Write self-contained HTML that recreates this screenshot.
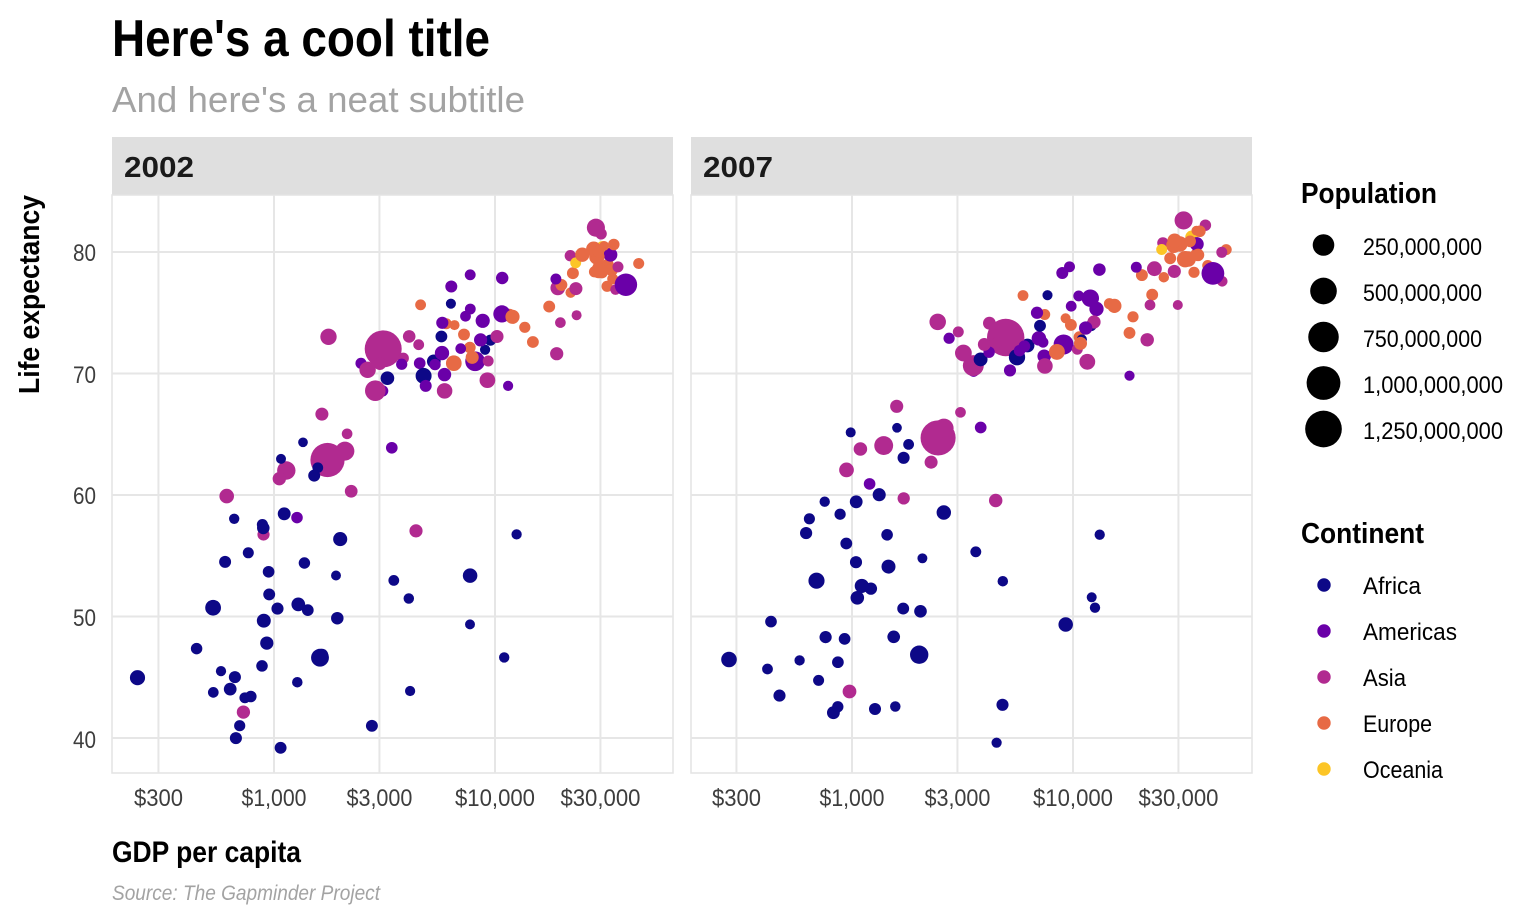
<!DOCTYPE html>
<html>
<head>
<meta charset="utf-8">
<style>
  html, body { margin: 0; padding: 0; background: #ffffff; }
  svg { display: block; }
  text { font-family: "Liberation Sans Narrow", "Liberation Sans", sans-serif; }
  .b { font-weight: bold; }
</style>
</head>
<body>
<svg id="chart" width="1536" height="921" viewBox="0 0 1536 921" xmlns="http://www.w3.org/2000/svg">
  <rect x="0" y="0" width="1536" height="921" fill="#ffffff"/>
  <!-- Titles -->
  <text class="b" x="112" y="56" font-size="52" fill="#000" textLength="378" lengthAdjust="spacingAndGlyphs">Here's a cool title</text>
  <text x="112" y="112" font-size="36" fill="#a3a3a3" textLength="413" lengthAdjust="spacingAndGlyphs">And here's a neat subtitle</text>

  <!-- Strips -->
  <rect x="112" y="137" width="561" height="58" fill="#dfdfdf"/>
  <rect x="691" y="137" width="561" height="58" fill="#dfdfdf"/>
  <text class="b" x="124" y="177" font-size="29" fill="#1a1a1a" textLength="70" lengthAdjust="spacingAndGlyphs">2002</text>
  <text class="b" x="703" y="177" font-size="29" fill="#1a1a1a" textLength="70" lengthAdjust="spacingAndGlyphs">2007</text>

  <!-- Panels -->
  <g id="grid"></g>
  <g id="pts"></g>

  <!-- Y labels -->
  <g font-size="24" fill="#3d3d3d" text-anchor="end">
    <text x="96" y="261" textLength="23" lengthAdjust="spacingAndGlyphs">80</text>
    <text x="96" y="383" textLength="23" lengthAdjust="spacingAndGlyphs">70</text>
    <text x="96" y="504" textLength="23" lengthAdjust="spacingAndGlyphs">60</text>
    <text x="96" y="626" textLength="23" lengthAdjust="spacingAndGlyphs">50</text>
    <text x="96" y="748" textLength="23" lengthAdjust="spacingAndGlyphs">40</text>
  </g>
  <g id="xlabels" font-size="24" fill="#3d3d3d" text-anchor="middle"></g>

  <!-- Axis titles -->
  <text class="b" transform="translate(39,394) rotate(-90)" x="0" y="0" font-size="29" fill="#000" textLength="199" lengthAdjust="spacingAndGlyphs">Life expectancy</text>
  <text class="b" x="112" y="862" font-size="30" fill="#000" textLength="189" lengthAdjust="spacingAndGlyphs">GDP per capita</text>
  <text x="112" y="900" font-size="21" font-style="italic" fill="#a3a3a3" textLength="268" lengthAdjust="spacingAndGlyphs">Source: The Gapminder Project</text>

  <!-- Legend: Population -->
  <text class="b" x="1301" y="203" font-size="29" fill="#000" textLength="136" lengthAdjust="spacingAndGlyphs">Population</text>
  <g id="poplegend"></g>

  <!-- Legend: Continent -->
  <text class="b" x="1301" y="543" font-size="29" fill="#000" textLength="123" lengthAdjust="spacingAndGlyphs">Continent</text>
  <g id="contlegend"></g>
</svg>

<script>
(function(){
  var NS = "http://www.w3.org/2000/svg";
  function el(tag, attrs, parent, txt){
    var e = document.createElementNS(NS, tag);
    for (var k in attrs) e.setAttribute(k, attrs[k]);
    if (txt !== undefined) e.textContent = txt;
    parent.appendChild(e);
    return e;
  }
  var COL = {F:"#0d0887", A:"#6a00a8", S:"#b12a90", E:"#e76a45", O:"#fcc526"};
  function px(g, p){ return 274 + 578*p + (Math.log10(g) - 3)*221; }
  function py(le){ return 252 + (80 - le)*12.15; }
  function dia(popM){ return 9.4 + 28*Math.sqrt(popM/1318.68); }

  // grid
  var grid = document.getElementById("grid");
  var ticks = [300,1000,3000,10000,30000];
  var tlab = ["$300","$1,000","$3,000","$10,000","$30,000"];
  var tw = [49,65,66,80,80];
  var xl = document.getElementById("xlabels");
  for (var p=0; p<2; p++){
    var x0 = 112 + 579*p, x1 = x0 + 561;
    el("rect",{x:x0, y:195, width:561, height:578, fill:"#ffffff", stroke:"#e3e3e3", "stroke-width":1.5}, grid);
    for (var v=40; v<=80; v+=10){
      el("line",{x1:x0, x2:x1, y1:py(v), y2:py(v), stroke:"#e6e6e6", "stroke-width":2}, grid);
    }
    for (var i=0;i<ticks.length;i++){
      var xx = px(ticks[i], p);
      el("line",{x1:xx, x2:xx, y1:195, y2:773, stroke:"#e6e6e6", "stroke-width":2}, grid);
      el("text",{x:xx, y:806, textLength:tw[i], lengthAdjust:"spacingAndGlyphs"}, xl, tlab[i]);
    }
  }

  var D = [
["S",42.129,25.27,726.73,43.828,31.89,974.58],
["E",75.651,3.51,4604.21,76.423,3.60,5937.03],
["F",70.994,31.29,5288.04,72.301,33.33,6223.37],
["F",41.003,10.87,2773.29,42.731,12.42,4797.23],
["A",74.34,38.33,8797.64,75.32,40.30,12779.38],
["O",80.37,19.55,30687.75,81.235,20.43,34435.37],
["E",78.98,8.15,32417.61,79.829,8.20,36126.49],
["S",74.795,0.66,23403.56,75.635,0.71,29796.05],
["S",62.013,135.66,1136.39,64.062,150.45,1391.25],
["E",78.32,10.31,30485.88,79.441,10.39,33692.61],
["F",54.406,7.03,1372.88,56.728,8.08,1441.28],
["A",63.883,8.45,3413.26,65.554,9.12,3822.14],
["E",74.09,4.17,6018.98,74.852,4.55,7446.30],
["F",46.634,1.63,11003.61,50.728,1.64,12569.85],
["A",71.006,179.91,8131.21,72.39,190.01,9065.80],
["E",72.14,7.66,7696.78,73.005,7.32,10680.79],
["F",50.65,12.25,1037.65,52.295,14.33,1217.03],
["F",47.36,7.02,446.40,49.58,8.39,430.07],
["S",56.752,12.93,896.23,59.723,14.13,1713.78],
["F",49.856,15.93,1934.01,50.43,17.70,2042.10],
["A",79.77,31.90,33328.97,80.653,33.39,36319.24],
["F",43.308,4.05,738.69,44.741,4.37,706.02],
["F",50.525,8.84,1422.85,50.651,10.24,1704.06],
["A",77.86,15.50,10778.78,78.553,16.28,13171.64],
["S",72.028,1280.4,3119.28,72.961,1318.68,4959.11],
["A",71.682,41.01,5755.26,72.889,44.23,7006.58],
["F",62.974,0.61,1075.81,65.152,0.71,986.15],
["F",44.966,55.38,241.17,46.462,64.61,277.55],
["F",52.97,3.33,3484.06,55.322,3.80,3632.56],
["A",78.123,3.83,7723.45,78.782,4.13,9645.06],
["F",46.832,16.25,1648.80,48.328,18.01,1544.75],
["E",74.876,4.48,11628.39,75.748,4.49,14619.22],
["A",77.158,11.23,6340.65,78.273,11.42,8948.10],
["E",75.51,10.26,17596.21,76.486,10.23,22833.31],
["E",77.18,5.37,32166.50,78.332,5.47,35278.42],
["F",53.373,0.45,1908.26,54.791,0.50,2082.48],
["A",70.847,8.65,4563.81,72.235,9.32,6025.37],
["A",74.173,12.92,5773.04,74.994,13.76,6873.26],
["F",69.806,73.31,4754.60,71.338,80.26,5581.18],
["A",70.734,6.35,5351.57,71.878,6.94,5728.35],
["F",49.348,0.50,7703.50,51.579,0.55,12154.09],
["F",55.24,4.41,765.35,58.04,4.91,641.37],
["F",50.725,67.95,530.05,52.947,76.51,690.81],
["E",78.37,5.19,28204.59,79.313,5.24,33207.08],
["E",79.59,59.93,28926.03,80.657,61.08,30470.02],
["F",56.761,1.30,12521.71,56.735,1.45,13206.48],
["F",58.041,1.46,660.59,59.448,1.69,752.75],
["E",78.67,82.35,30035.80,79.406,82.40,32170.37],
["F",58.453,20.55,1111.98,60.022,22.87,1327.61],
["E",78.256,10.60,22514.25,79.483,10.71,27538.41],
["A",68.978,11.18,4858.35,70.259,12.57,5186.05],
["F",53.676,8.81,945.58,56.007,9.95,942.65],
["F",45.504,1.33,575.70,46.388,1.47,579.23],
["A",58.137,7.61,1270.36,60.916,8.50,1201.64],
["A",68.565,6.68,3099.73,70.198,7.48,3548.33],
["S",81.495,6.76,30209.02,82.208,6.98,39724.98],
["E",72.59,10.08,14843.94,73.338,9.96,18008.94],
["E",80.5,0.29,31163.20,81.757,0.30,36180.79],
["S",62.879,1034.17,1746.77,64.698,1110.40,2452.21],
["S",68.588,211.06,2873.91,70.65,223.55,3540.65],
["S",69.451,66.91,9240.76,70.964,69.45,11605.71],
["S",57.046,24.00,4390.72,59.545,27.50,4471.06],
["E",77.783,3.88,34077.05,78.885,4.11,40676.00],
["S",79.696,6.03,21905.60,80.745,6.43,25523.28],
["E",80.24,57.93,27968.10,80.546,58.15,28569.72],
["A",72.047,2.66,6994.77,72.567,2.78,7320.88],
["S",82.0,127.07,28604.59,82.603,127.47,31656.07],
["S",71.263,5.31,3844.92,72.535,6.05,4519.46],
["F",50.992,31.39,1287.51,54.11,35.61,1463.25],
["S",66.662,22.22,1646.76,67.297,23.30,1593.07],
["S",77.045,47.97,19233.99,78.623,49.04,23348.14],
["S",76.904,2.11,35110.11,77.588,2.51,47306.99],
["S",71.028,3.68,9313.94,71.993,3.92,10461.06],
["F",44.593,2.05,1275.18,42.592,2.01,1569.33],
["F",43.753,2.81,531.48,45.678,3.19,414.51],
["F",72.737,5.37,9534.68,73.952,6.04,12057.50],
["F",57.286,16.47,894.64,59.443,19.17,1044.77],
["F",45.009,11.82,665.42,48.303,13.33,759.35],
["S",73.044,22.66,10206.98,74.241,24.82,12451.66],
["F",51.818,10.58,951.41,54.467,12.03,1042.58],
["F",62.247,2.83,1579.02,64.164,3.27,1803.15],
["F",71.954,1.20,9021.82,72.801,1.25,10956.99],
["A",74.902,102.48,10742.44,76.195,108.70,11977.57],
["S",65.033,2.67,2140.74,66.803,2.87,3095.77],
["E",73.981,0.72,6557.19,74.543,0.68,9253.90],
["F",69.615,31.17,3258.50,71.164,33.76,3820.18],
["F",44.026,18.47,633.62,42.082,19.95,823.69],
["S",59.908,45.60,611.00,62.069,47.76,944.00],
["F",51.479,1.97,4072.32,52.906,2.06,4811.06],
["S",61.34,25.87,1057.21,63.785,28.90,1091.36],
["E",78.53,16.12,33724.76,79.762,16.57,36797.93],
["O",79.11,3.91,23189.80,80.204,4.12,25185.01],
["A",70.836,5.15,2474.55,72.899,5.68,2749.32],
["F",54.496,11.14,601.07,56.867,12.89,619.68],
["F",46.608,119.90,1615.29,46.859,135.03,2013.98],
["E",79.05,4.54,44683.98,80.196,4.63,49357.19],
["S",74.193,2.71,19774.84,75.64,3.20,22316.19],
["S",63.61,153.40,2092.71,65.483,169.27,2605.95],
["A",74.712,2.99,7356.03,75.537,3.24,9809.19],
["A",70.755,5.88,3783.67,71.752,6.67,4172.84],
["A",69.906,26.77,5909.02,71.421,28.67,7408.91],
["S",70.303,83.00,2650.92,71.688,91.08,3190.48],
["E",74.67,38.63,12002.24,75.563,38.52,15389.92],
["E",77.29,10.43,19970.91,78.098,10.64,20509.65],
["A",77.778,3.86,18855.61,78.746,3.94,19328.71],
["F",75.744,0.74,6316.17,76.442,0.80,7670.12],
["E",71.322,22.40,7885.36,72.476,22.28,10808.48],
["F",43.413,7.85,785.65,46.242,8.86,863.09],
["F",64.337,0.17,1353.09,65.528,0.20,1598.44],
["S",71.626,24.50,19014.54,72.777,27.60,21654.83],
["F",61.6,10.87,1519.64,63.062,12.27,1712.47],
["E",73.213,10.11,7236.08,74.002,10.15,9786.53],
["F",41.012,5.36,699.49,42.568,6.14,862.54],
["S",78.77,4.20,36023.11,79.972,4.55,47143.18],
["E",73.8,5.41,13638.78,74.663,5.45,18678.31],
["E",76.66,2.01,22012.03,77.926,2.01,25768.26],
["F",45.936,7.75,882.08,48.159,9.12,926.14],
["F",53.365,44.43,7710.95,49.339,44.00,9269.66],
["E",79.78,40.15,24835.47,80.941,40.45,28821.06],
["S",70.815,19.58,3015.38,72.396,20.38,3970.10],
["F",56.369,37.09,1993.40,58.556,42.29,2602.39],
["F",43.869,1.13,4128.12,39.613,1.13,4513.48],
["E",80.04,8.95,29341.63,80.884,9.03,33859.75],
["E",80.62,7.36,34480.96,81.701,7.55,37506.42],
["S",73.053,17.16,4090.93,74.143,19.31,4184.55],
["S",76.99,22.45,23235.42,78.4,23.17,28718.28],
["F",49.651,34.59,899.07,52.517,38.14,1107.48],
["S",68.564,62.81,5913.19,70.616,65.07,7458.40],
["F",57.561,4.98,886.22,58.42,5.70,882.97],
["A",68.976,1.10,11460.60,69.819,1.06,18008.51],
["F",73.042,9.77,5722.90,73.923,10.28,7092.92],
["E",70.845,67.31,6508.09,71.777,71.16,8458.28],
["F",47.813,24.74,927.72,51.542,29.17,1056.38],
["E",78.471,59.91,29478.00,79.425,60.78,33203.26],
["A",77.31,287.68,39097.10,78.242,301.14,42951.65],
["A",75.307,3.36,7727.00,76.384,3.45,10611.46],
["A",72.766,24.29,8605.05,73.747,26.08,11415.81],
["S",73.017,80.91,1764.46,74.249,85.26,2441.58],
["S",72.37,3.39,4515.49,73.422,4.02,3025.35],
["S",60.308,18.70,2234.82,62.698,22.21,2280.77],
["F",39.193,10.60,1071.61,42.384,11.75,1271.21],
["F",39.989,11.93,672.04,43.487,12.31,469.71]
  ];

  var pts = document.getElementById("pts");
  for (var p2=0; p2<2; p2++){
    for (var j=0; j<D.length; j++){
      var r = D[j];
      var le = p2 ? r[4] : r[1];
      var pop = p2 ? r[5] : r[2];
      var g = p2 ? r[6] : r[3];
      el("circle",{cx:px(g,p2).toFixed(1), cy:py(le).toFixed(1), r:(dia(pop)/2).toFixed(2), fill:COL[r[0]]}, pts);
    }
  }

  // population legend
  var pl = document.getElementById("poplegend");
  var pv = [250,500,750,1000,1250];
  var plab = ["250,000,000","500,000,000","750,000,000","1,000,000,000","1,250,000,000"];
  var plw = [119,119,119,140,140];
  var pyv = [245,291,337,383,429];
  for (var k=0;k<5;k++){
    el("circle",{cx:1323.5, cy:pyv[k], r:(dia(pv[k])/2).toFixed(2), fill:"#000"}, pl);
    el("text",{x:1363, y:pyv[k]+10, "font-size":24, fill:"#000", textLength:plw[k], lengthAdjust:"spacingAndGlyphs"}, pl, plab[k]);
  }
  // continent legend
  var cl = document.getElementById("contlegend");
  var cn = ["Africa","Americas","Asia","Europe","Oceania"];
  var cc = ["F","A","S","E","O"];
  var cw = [58,94,43,69,80];
  var cy = [585,631,677,723,769];
  for (var m=0;m<5;m++){
    el("circle",{cx:1324, cy:cy[m], r:6.7, fill:COL[cc[m]]}, cl);
    el("text",{x:1363, y:cy[m]+9, "font-size":24, fill:"#000", textLength:cw[m], lengthAdjust:"spacingAndGlyphs"}, cl, cn[m]);
  }
})();
</script>
</body>
</html>
